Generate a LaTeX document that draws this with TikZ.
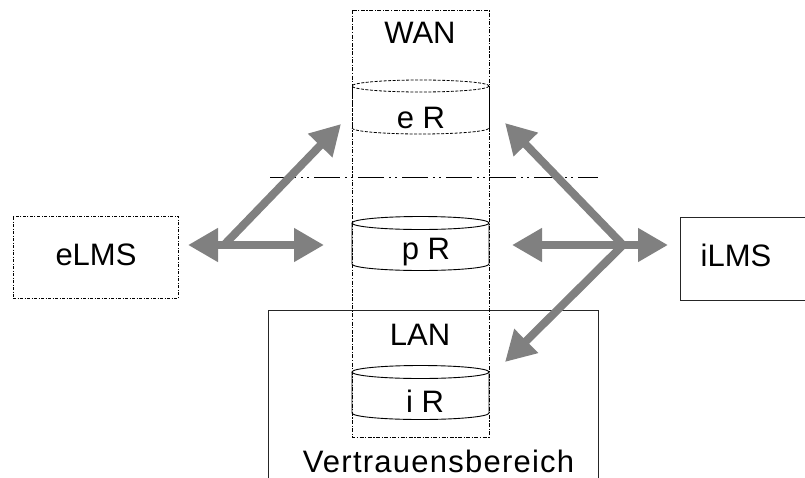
\documentclass[tikz,border=0pt]{standalone}
\usepackage{fontspec}
\setmainfont{Liberation Sans}
\usetikzlibrary{arrows.meta}
\definecolor{arrgray}{RGB}{128,128,128}
\tikzset{
  lbl/.style={anchor=base,inner sep=0pt,font=\fontsize{31}{36}\selectfont},
  fat/.style={draw=arrgray,line width=8pt,-{Triangle[width=32pt,length=30pt]}},
  dd/.style={line width=0.9pt,dash pattern=on 4pt off 1.5pt on 1.2pt off 1.5pt},
  thinbox/.style={line width=0.9pt,draw=black!85}
}
\begin{document}
\begin{tikzpicture}[x=1pt,y=-1pt]
\useasboundingbox (0,0) rectangle (805,477);
% trust area
\draw[thinbox] (268,310) rectangle (598,479);
% column
\draw[dd] (352,10) rectangle (489,437);
% separator line
\draw[line width=0.9pt,dash pattern=on 26pt off 5pt on 2pt off 4pt on 2pt off 5pt] (270,177) -- (598,177);
% eR cylinder
\draw[line width=0.8pt,dash pattern=on 3pt off 1.5pt] (420.5,86) ellipse [x radius=68.5,y radius=6];
\draw[line width=0.8pt,dash pattern=on 3pt off 1.5pt] (352,128) arc[start angle=180,end angle=0,x radius=68.5,y radius=6];
\draw[line width=0.9pt] (489,86) -- (489,128);
\draw[line width=0.8pt,dash pattern=on 3pt off 1.5pt] (352,86) -- (352,128);
% pR cylinder
\draw[line width=0.9pt] (420.5,223) ellipse [x radius=68.5,y radius=6.5];
\draw[line width=0.9pt] (352,223) -- (352,264) arc[start angle=180,end angle=0,x radius=68.5,y radius=6.5] -- (489,223);
% iR cylinder
\draw[line width=0.9pt] (420.5,372) ellipse [x radius=68.5,y radius=6.5];
\draw[line width=0.9pt] (352,372) -- (352,413) arc[start angle=180,end angle=0,x radius=68.5,y radius=6.5] -- (489,372);
% boxes
\node[draw,line width=0.9pt,dash pattern=on 3pt off 1.5pt on 1pt off 1.5pt,minimum width=165pt,minimum height=82pt,inner sep=0pt] (elms) at (95.5,257) {};
\draw[thinbox] (680,217) -- (810,217) (680,217) -- (680,300) -- (810,300);
\coordinate (ilms) at (742,258);
% labels
\node[lbl] (wan) at (420,43) {WAN};
\node[lbl] (er) at (421,128) {e R};
\node[lbl] (pr) at (426,259) {p R};
\node[lbl] (lan) at (420,345) {LAN};
\node[lbl] (ir) at (425,412) {i R};
\node[lbl] (vb) at (438.5,472) {\addfontfeature{LetterSpace=4}Vertrauensbereich};
\node[lbl] (elmst) at (96,265) {eLMS};
\node[lbl] (ilmst) at (736,266) {iLMS};
% arrows
\coordinate (jl) at (224,245);
\coordinate (jr) at (623,245);
\coordinate (tl1) at (188,245);
\coordinate (tl2) at (324,245);
\coordinate (tl3) at (341,124);
\coordinate (tr1) at (668,245);
\coordinate (tr2) at (512,245);
\coordinate (tr3) at (505,123);
\coordinate (tr4) at (505,362);
\draw[fat] (jl) -- (tl1);
\draw[fat] (jl) -- (tl2);
\draw[fat] (jl) -- (tl3);
\draw[fat] (jr) -- (tr1);
\draw[fat] (jr) -- (tr2);
\draw[fat] (jr) -- (tr3);
\draw[fat] (jr) -- (tr4);
\end{tikzpicture}
\end{document}
